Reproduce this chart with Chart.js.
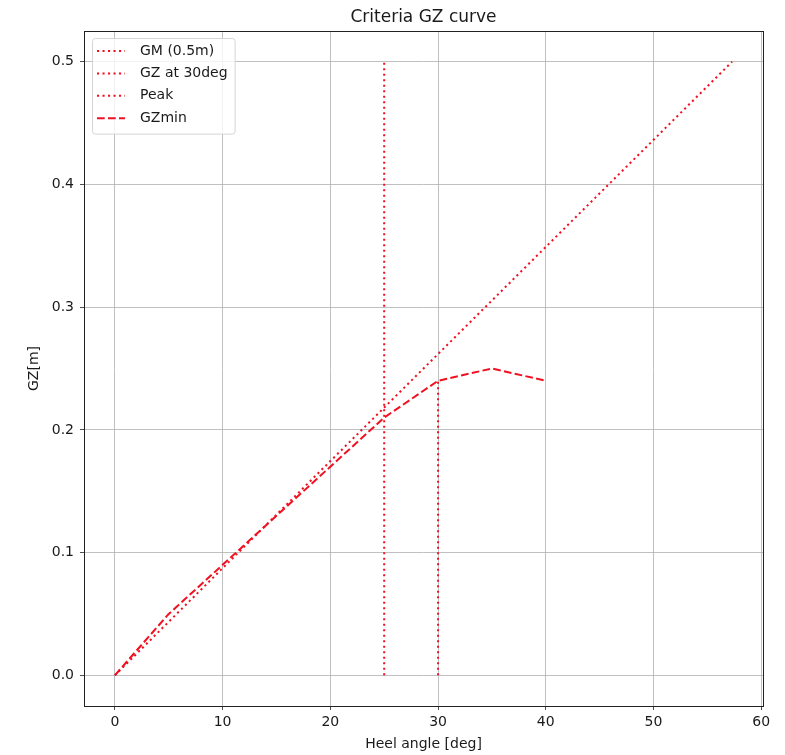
<!DOCTYPE html>
<html>
<head>
<meta charset="utf-8">
<title>Criteria GZ curve</title>
<script src="https://cdn.jsdelivr.net/npm/chart.js@4.4.1/dist/chart.umd.min.js"></script>
<style>
  html, body { margin: 0; padding: 0; background: #fff; }
  #wrap { width: 785px; height: 755px; }
</style>
</head>
<body>
<div id="wrap"><canvas id="gzChart" width="785" height="755"></canvas></div>
<script>
// GZ values read at 5 degree steps of heel
const gzAngles = [0, 5, 10, 15, 20, 25, 30, 35, 40];
const gzMinValues = [0, 0.05, 0.09, 0.13, 0.17, 0.21, 0.24, 0.25, 0.24];

// initial GM slope: GZ reaches GM (0.5 m) at one radian
const gmAngles = [0, 57.3];
const gmValues = [0, 0.5];

// vertical markers
const gz30Angles = [30, 30];
const gz30Values = [0, 0.24];
const peakAngles = [25, 25];
const peakValues = [0, 0.5];

const xTicks = [0, 10, 20, 30, 40, 50, 60];
const yTicks = [0, 0.1, 0.2, 0.3, 0.4, 0.5];

const RED = '#f01020';
const DOTTED = [2.1, 3.4];
const DASHED = [7.7, 3.3];
const FONT = 'DejaVu Sans';

function pts(xs, ys) {
  return xs.map((x, i) => ({ x: x, y: ys[i] }));
}

function lineSet(label, xs, ys, dash) {
  return {
    label: label,
    data: pts(xs, ys),
    showLine: true,
    borderColor: RED,
    backgroundColor: RED,
    borderWidth: 2,
    borderDash: dash,
    pointRadius: 0,
    pointHoverRadius: 0,
    fill: false,
    tension: 0
  };
}

// axes frame, title above the plot and a boxed legend in the upper-left corner
const framePlugin = {
  id: 'frame',
  afterDatasetsDraw(chart) {
    const ctx = chart.ctx;
    const a = chart.chartArea;

    // legend
    const sets = chart.data.datasets;
    ctx.save();
    ctx.font = '14px "' + FONT + '"';
    let textW = 0;
    sets.forEach(ds => { textW = Math.max(textW, ctx.measureText(ds.label).width); });
    const bx = a.left + 8, by = a.top + 7;
    const rowH = 22.4;
    const bw = 48 + textW + 7;
    const bh = sets.length * rowH + 6;
    ctx.beginPath();
    ctx.roundRect(bx + 0.5, by + 0.5, bw, bh, 3);
    ctx.fillStyle = 'rgba(255,255,255,0.8)';
    ctx.fill();
    ctx.strokeStyle = '#d5d5d5';
    ctx.lineWidth = 1;
    ctx.stroke();
    sets.forEach((ds, i) => {
      const y = by + 13 + i * rowH;
      ctx.beginPath();
      ctx.setLineDash(ds.borderDash);
      ctx.strokeStyle = ds.borderColor;
      ctx.lineWidth = ds.borderWidth;
      ctx.moveTo(bx + 5, y);
      ctx.lineTo(bx + 33, y);
      ctx.stroke();
      ctx.setLineDash([]);
      ctx.fillStyle = '#1a1a1a';
      ctx.textBaseline = 'middle';
      ctx.textAlign = 'left';
      ctx.fillText(ds.label, bx + 48, y);
    });

    // frame
    ctx.strokeStyle = '#222';
    ctx.lineWidth = 1;
    ctx.strokeRect(Math.round(a.left) + 0.5, Math.round(a.top) + 0.5,
      Math.round(a.right - a.left), Math.round(a.bottom - a.top));

    // title
    ctx.font = '17px "' + FONT + '"';
    ctx.fillStyle = '#1a1a1a';
    ctx.textAlign = 'center';
    ctx.textBaseline = 'alphabetic';
    ctx.fillText('Criteria GZ curve', (a.left + a.right) / 2, a.top - 9);
    ctx.restore();
  }
};

document.addEventListener('DOMContentLoaded', function () {
  const ctx = document.getElementById('gzChart').getContext('2d');
  new Chart(ctx, {
    type: 'scatter',
    data: {
      datasets: [
        lineSet('GM (0.5m)', gmAngles, gmValues, DOTTED),
        lineSet('GZ at 30deg', gz30Angles, gz30Values, DOTTED),
        lineSet('Peak', peakAngles, peakValues, DOTTED),
        lineSet('GZmin', gzAngles, gzMinValues, DASHED)
      ]
    },
    options: {
      responsive: false,
      animation: false,
      layout: { padding: { top: 31, right: 22, left: 0, bottom: 0 } },
      plugins: {
        legend: { display: false },
        title: { display: false },
        tooltip: { enabled: false }
      },
      scales: {
        x: {
          type: 'linear',
          min: -2.865,
          max: 60.165,
          afterBuildTicks: s => { s.ticks = xTicks.map(v => ({ value: v })); },
          afterFit: s => { s.height = 49; },
          grid: { color: '#b0b0b0', lineWidth: 0.8, tickColor: '#222', tickLength: 4 },
          border: { display: false },
          ticks: {
            color: '#1a1a1a',
            font: { family: FONT, size: 14 },
            padding: 4,
            maxRotation: 0,
            callback: v => String(v)
          },
          title: {
            display: true,
            text: 'Heel angle [deg]',
            color: '#1a1a1a',
            font: { family: FONT, size: 14 },
            padding: { top: 0, bottom: 2 }
          }
        },
        y: {
          type: 'linear',
          min: -0.025,
          max: 0.525,
          afterBuildTicks: s => { s.ticks = yTicks.map(v => ({ value: v })); },
          afterFit: s => { s.width = 84; },
          grid: { color: '#b0b0b0', lineWidth: 0.8, tickColor: '#222', tickLength: 4 },
          border: { display: false },
          ticks: {
            color: '#1a1a1a',
            font: { family: FONT, size: 14 },
            padding: 6,
            callback: v => v.toFixed(1)
          },
          title: {
            display: true,
            text: 'GZ[m]',
            color: '#1a1a1a',
            font: { family: FONT, size: 14 },
            padding: { top: 26, bottom: 0 }
          }
        }
      }
    },
    plugins: [framePlugin]
  });
});
</script>
</body>
</html>
